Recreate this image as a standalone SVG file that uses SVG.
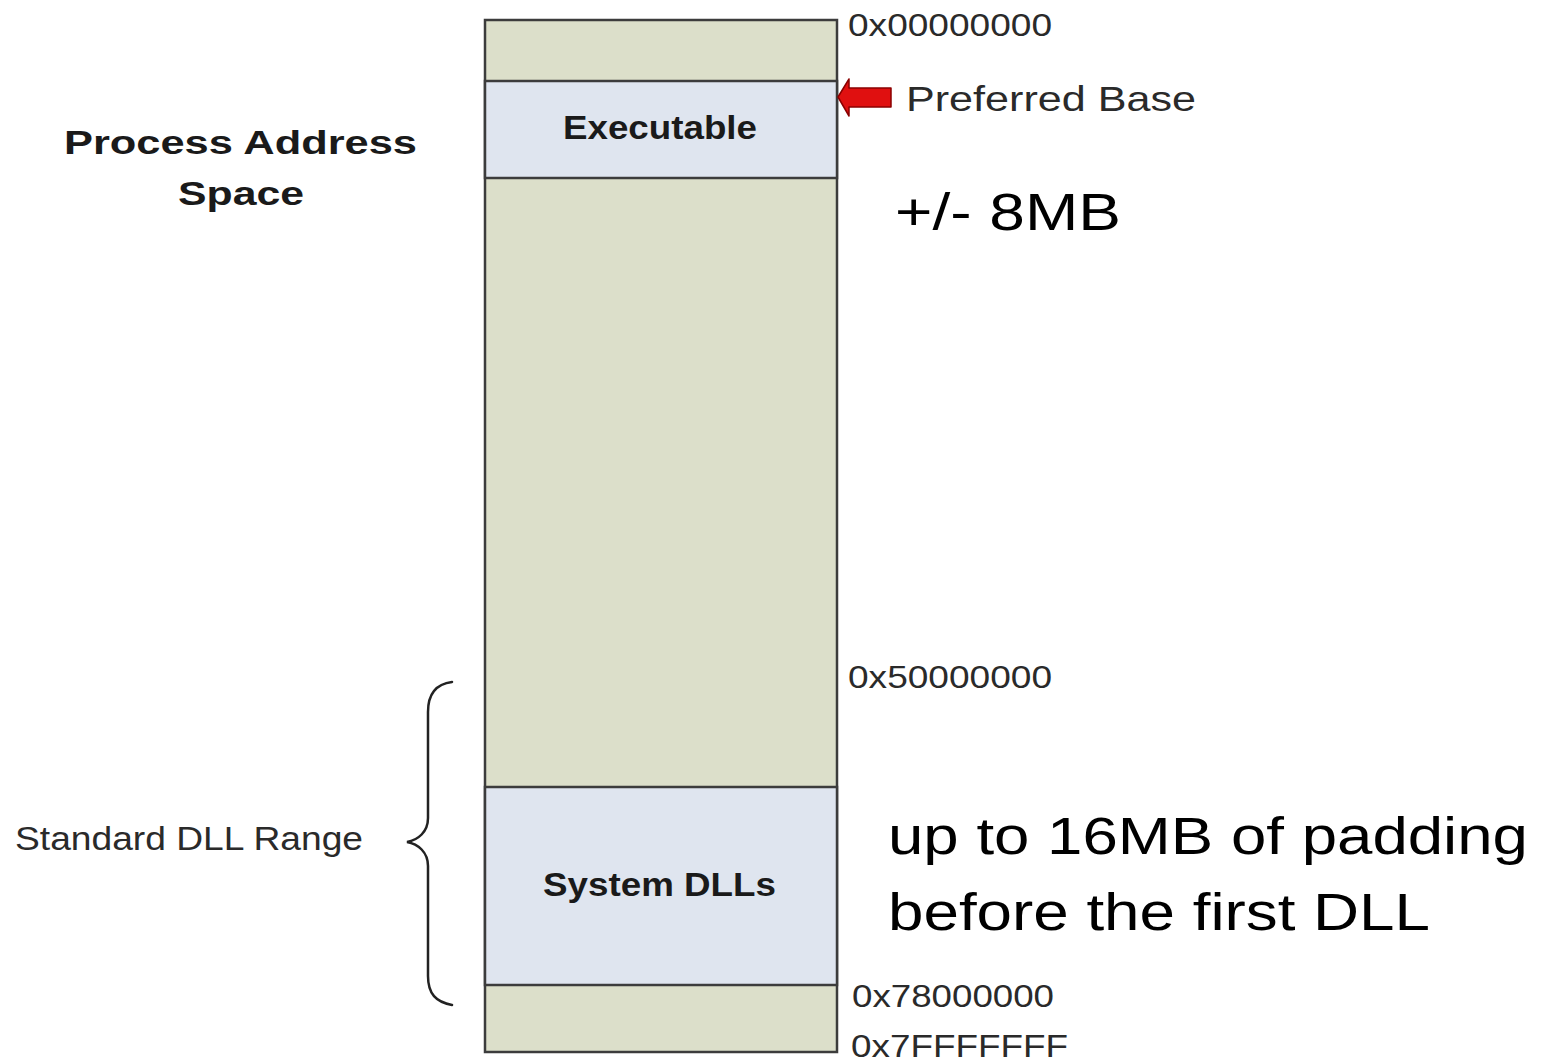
<svg xmlns="http://www.w3.org/2000/svg" width="1547" height="1064" viewBox="0 0 1547 1064">
  <defs>
    <style>
      .region { fill: #dcdfca; stroke: #3c3c3c; stroke-width: 2.5; }
      .module { fill: #dfe5ef; stroke: #3c3c3c; stroke-width: 2.5; }
      .mod-label { font-family: "Liberation Sans", Arial, sans-serif; font-weight: bold; fill: #1a1a1a; text-anchor: start; }
      .addr { font-family: "Liberation Sans", Arial, sans-serif; fill: #2a2a2a; font-size: 32px; }
      .note { font-family: "Liberation Sans", Arial, sans-serif; fill: #000; font-size: 51px; }
      .side { font-family: "Liberation Sans", Arial, sans-serif; fill: #2a2a2a; }
      .brace { fill: none; stroke: #222; stroke-width: 2.5; stroke-linecap: round; }
    </style>
  </defs>
  <rect width="1547" height="1064" fill="#ffffff"/>

  <!-- address space column -->
  <g id="address-space">
    <rect class="region" x="485" y="20" width="352" height="1032"/>
  </g>

  <g id="executable">
    <rect class="module" x="485" y="81" width="352" height="97"/>
    <text class="mod-label" x="563" y="139" font-size="33" textLength="194" lengthAdjust="spacingAndGlyphs">Executable</text>
  </g>

  <g id="system-dlls">
    <rect class="module" x="485" y="787" width="352" height="198"/>
    <text class="mod-label" x="543" y="896" font-size="33" textLength="233" lengthAdjust="spacingAndGlyphs">System DLLs</text>
  </g>

  <!-- title -->
  <g id="title">
    <text class="mod-label" x="64" y="154" font-size="33" textLength="353" lengthAdjust="spacingAndGlyphs">Process Address</text>
    <text class="mod-label" x="178" y="205" font-size="33" textLength="126" lengthAdjust="spacingAndGlyphs">Space</text>
  </g>

  <!-- address labels -->
  <g id="addresses">
    <text class="addr" x="848" y="36" textLength="204" lengthAdjust="spacingAndGlyphs">0x00000000</text>
    <text class="addr" x="848" y="688" textLength="204" lengthAdjust="spacingAndGlyphs">0x50000000</text>
    <text class="addr" x="852" y="1007" textLength="202" lengthAdjust="spacingAndGlyphs">0x78000000</text>
    <text class="addr" x="851" y="1057" textLength="217" lengthAdjust="spacingAndGlyphs">0x7FFFFFFF</text>
  </g>

  <!-- preferred base marker -->
  <g id="preferred-base">
    <polygon points="838,97 849,79 849,88 891,88 891,107 849,107 849,116" fill="#e01010" stroke="#8a0000" stroke-width="1.5" stroke-linejoin="round"/>
    <text class="side" x="906" y="111" font-size="35" textLength="290" lengthAdjust="spacingAndGlyphs">Preferred Base</text>
  </g>

  <!-- standard DLL range -->
  <g id="dll-range">
    <path class="brace" d="M452,682 C436,684 428,694 428,712 L428,818 C428,832 418,840 407,842 C418,844 428,852 428,866 L428,976 C428,994 436,1002 452,1005"/>
    <text class="side" x="15" y="850" font-size="34" textLength="348" lengthAdjust="spacingAndGlyphs">Standard DLL Range</text>
  </g>

  <!-- notes -->
  <g id="notes">
    <text class="note" x="895" y="230" textLength="226" lengthAdjust="spacingAndGlyphs">+/- 8MB</text>
    <text class="note" x="888" y="854" textLength="640" lengthAdjust="spacingAndGlyphs">up to 16MB of padding</text>
    <text class="note" x="888" y="930" textLength="542" lengthAdjust="spacingAndGlyphs">before the first DLL</text>
  </g>
</svg>
